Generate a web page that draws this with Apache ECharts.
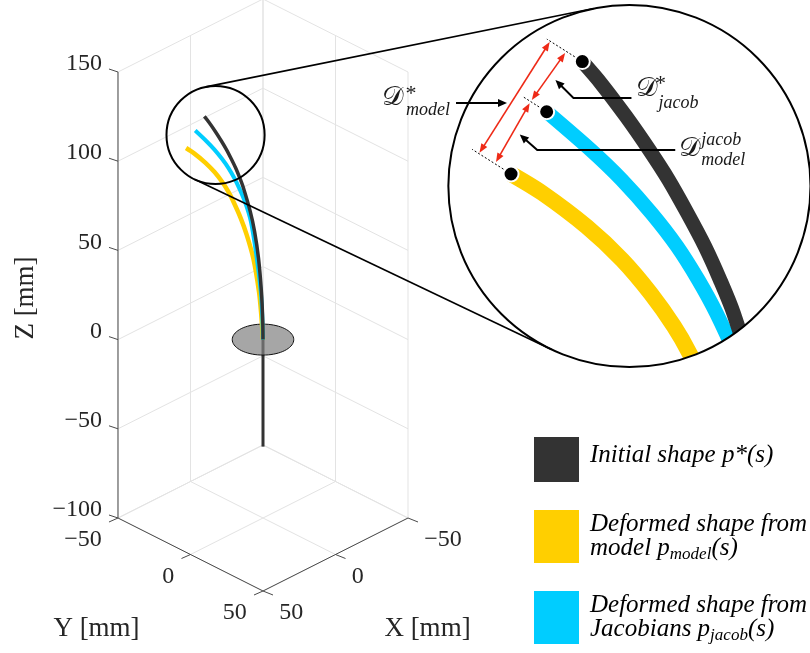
<!DOCTYPE html>
<html>
<head>
<meta charset="utf-8">
<script src="https://cdn.jsdelivr.net/npm/echarts@6/dist/echarts.min.js"></script>
<style>
html,body{margin:0;padding:0;background:#fff;}
#chart{width:810px;height:653px;}
</style>
</head>
<body>
<div id="chart"></div>
<script>
// ---------------- data ----------------
const xTicks = [-50, 0, 50];
const yTicks = [-50, 0, 50];
const zTicks = [-100, -50, 0, 50, 100, 150];
const axisTitles = { x: 'X [mm]', y: 'Y [mm]', z: 'Z [mm]' };
const seriesNames = [
  'Initial shape p*(s)',
  'Deformed shape from model p_model(s)',
  'Deformed shape from Jacobians p_jacob(s)'
];

// centre-line points of the three shapes [mm]
const initialX = [0, 0.10, 0.55, 1.55, 2.90, 4.38, 6.85, 8.03, 9.38, 10.92, 12.60, 14.30, 16.33, 18.58, 20.22];
const initialY = [0, -0.10, -0.55, -1.55, -2.90, -4.38, -6.85, -8.03, -9.38, -10.92, -12.60, -14.30, -16.33, -18.58, -20.22];
const initialZ = [0, 11.0, 26.9, 45.6, 60.5, 71.7, 85.5, 90.7, 96.0, 101.2, 106.5, 111.2, 116.4, 121.7, 125.1];

const modelX = [0, 0.59, 1.38, 3.34, 5.59, 7.66, 10.75, 12.11, 14.18, 16.71, 19.83, 23.76, 26.52];
const modelY = [0, -0.59, -1.38, -3.34, -5.59, -7.66, -10.75, -12.11, -14.18, -16.71, -19.83, -23.76, -26.52];
const modelZ = [0, 13.8, 26.9, 45.6, 58.6, 68.0, 79.2, 83.4, 88.6, 93.9, 99.1, 104.4, 107.4];

const jacobX = [0, 0.28, 0.76, 2.14, 4.17, 6.24, 8.37, 9.96, 11.84, 14.09, 16.74, 19.48, 23.37];
const jacobY = [0, -0.28, -0.76, -2.14, -4.17, -6.24, -8.37, -9.96, -11.84, -14.09, -16.74, -19.48, -23.37];
const jacobZ = [0, 13.8, 26.9, 45.6, 66.1, 77.3, 85.5, 90.7, 96.0, 101.2, 106.5, 111.2, 117.2];

const rodZ = [0, -60];      // fixed rod under the base
const diskRadius = 15;      // base plate radius
const diskZ = 0;

// ---------------- view / layout (style) ----------------
const W = 810, H = 653;
const PX = 1.784;                 // px per unit of projected space
const ORIGIN = [263, 339.6];      // pixel of (0,0,0)
const VA = 0.8128, VB = 0.4092;   // orthographic view
function proj(x, y, z) { return [VA * (y - x), z - VB * (x + y)]; }
const ZOOM = { mx: 3.9, my: 3.56, ax: -214.7, ay: -352.9 };   // magnified view
const lens = { u: -26.6, v: 114.7, r: 27.5 };     // small circle (projected units)
const loupe = { u: 205.4, v: 86.1, r: 101.5 };    // big circle
const SERIF = '"Liberation Serif", "Times New Roman", serif';
const SCRIPT = '"DejaVu Serif", "DejaVu Sans", serif';
const RED = '#ee2a17';
const COLORS = ['#333333', '#FFCF00', '#00CDFF'];

const xMin = Math.min(...xTicks), xMax = Math.max(...xTicks);
const yMin = Math.min(...yTicks), yMax = Math.max(...yTicks);
const zMin = Math.min(...zTicks), zMax = Math.max(...zTicks);

function mainPx(u, v) { return [ORIGIN[0] + PX * u, ORIGIN[1] - PX * v]; }
function insetPx(u, v) { const p = mainPx(u, v); return [ZOOM.ax + ZOOM.mx * p[0], ZOOM.ay + ZOOM.my * p[1]]; }

const mainRange = {
  x: [-ORIGIN[0] / PX, (W - ORIGIN[0]) / PX],
  y: [(ORIGIN[1] - H) / PX, ORIGIN[1] / PX]
};
const insetRange = {
  x: [((0 - ZOOM.ax) / ZOOM.mx - ORIGIN[0]) / PX, ((W - ZOOM.ax) / ZOOM.mx - ORIGIN[0]) / PX],
  y: [(ORIGIN[1] - (H - ZOOM.ay) / ZOOM.my) / PX, (ORIGIN[1] - (0 - ZOOM.ay) / ZOOM.my) / PX]
};

const curves = [
  { name: seriesNames[1], X: modelX, Y: modelY, Z: modelZ, color: COLORS[1], w: 4.5, wi: 16, z: 5 },
  { name: seriesNames[2], X: jacobX, Y: jacobY, Z: jacobZ, color: COLORS[2], w: 4, wi: 14.5, z: 6 },
  { name: seriesNames[0], X: initialX, Y: initialY, Z: initialZ, color: COLORS[0], w: 3.5, wi: 14.5, z: 7 }
];
curves.forEach(c => { c.pts = c.X.map((x, i) => proj(x, c.Y[i], c.Z[i])); });

// points of each curve that fall inside the loupe (plus one outside for continuity)
const loupePx = mainPx(loupe.u, loupe.v), loupeR = loupe.r * PX;
curves.forEach(c => {
  const first = c.pts.findIndex(p => {
    const q = insetPx(p[0], p[1]);
    return Math.hypot(q[0] - loupePx[0], q[1] - loupePx[1]) < loupeR;
  });
  c.insetPts = c.pts.slice(Math.max(0, first - 1));
});

// ---------------- box geometry from ticks ----------------
const gridSegs = [];
zTicks.forEach(z => {
  gridSegs.push([...proj(xMax, yMin, z), ...proj(xMin, yMin, z)]);
  gridSegs.push([...proj(xMin, yMin, z), ...proj(xMin, yMax, z)]);
});
xTicks.forEach(x => {
  gridSegs.push([...proj(x, yMin, zMin), ...proj(x, yMin, zMax)]);
  gridSegs.push([...proj(x, yMin, zMin), ...proj(x, yMax, zMin)]);
});
yTicks.forEach(y => {
  gridSegs.push([...proj(xMin, y, zMin), ...proj(xMin, y, zMax)]);
  gridSegs.push([...proj(xMin, y, zMin), ...proj(xMax, y, zMin)]);
});
const axisSegs = [
  [...proj(xMax, yMin, zMin), ...proj(xMax, yMin, zMax)],
  [...proj(xMax, yMin, zMin), ...proj(xMax, yMax, zMin)],
  [...proj(xMax, yMax, zMin), ...proj(xMin, yMax, zMin)]
];
const tickItems = [];
zTicks.forEach(z => tickItems.push([...proj(xMax, yMin, z), -9, -3]));
yTicks.forEach(y => tickItems.push([...proj(xMax, y, zMin), -9, 4]));
xTicks.forEach(x => tickItems.push([...proj(x, yMax, zMin), 10, 4]));

const fmt = t => (t < 0 ? '\u2212' + Math.abs(t) : String(t));
const textItems = [];
zTicks.forEach(z => textItems.push({ p: proj(xMax, yMin, z), text: fmt(z), align: 'right', dx: -16, dy: -8, size: 24 }));
yTicks.forEach(y => textItems.push({ p: proj(xMax, y, zMin), text: fmt(y), align: 'right', dx: -16.3, dy: 22, size: 24 }));
xTicks.forEach(x => textItems.push({ p: proj(x, yMax, zMin), text: fmt(x), align: 'left', dx: 16.3, dy: 22, size: 24 }));
textItems.push({ p: proj(xMax, yMin, (zMin + zMax) / 2), text: axisTitles.z, align: 'center', dx: -92, dy: 3, size: 27, rot: Math.PI / 2 });
textItems.push({ p: proj(xMax, (yMin + yMax) / 2, zMin), text: axisTitles.y, align: 'center', dx: -94, dy: 74.5, size: 27 });
textItems.push({ p: proj((xMin + xMax) / 2, yMax, zMin), text: axisTitles.x, align: 'center', dx: 92, dy: 74.5, size: 27 });

// ---------------- helpers ----------------
function segSeries(segs, style, z, axis) {
  return {
    type: 'custom', xAxisIndex: axis || 0, yAxisIndex: axis || 0, z, silent: true,
    data: segs,
    renderItem(params, api) {
      const p1 = api.coord([api.value(0), api.value(1)]);
      const p2 = api.coord([api.value(2), api.value(3)]);
      return { type: 'line', shape: { x1: p1[0], y1: p1[1], x2: p2[0], y2: p2[1] }, style: Object.assign({}, style) };
    }
  };
}
function txt(x, y, text, o) {
  o = o || {};
  return {
    type: 'text', x, y, rotation: o.rot || 0,
    style: {
      text, fill: o.fill || '#1a1a1a', fontSize: o.size || 18, fontFamily: o.family || SERIF,
      fontStyle: o.style || 'normal', align: o.align || 'left', verticalAlign: 'middle',
      textAlign: o.align || 'left', textVerticalAlign: 'middle'
    }
  };
}
function head(tip, ux, uy, len, half, color) {
  const bx = tip[0] - ux * len, by = tip[1] - uy * len;
  return { type: 'polygon', shape: { points: [[tip[0], tip[1]], [bx - uy * half, by + ux * half], [bx + uy * half, by - ux * half]] }, style: { fill: color } };
}
function dblArrow(P, Q, g, color) {
  const dx = Q[0] - P[0], dy = Q[1] - P[1], L = Math.hypot(dx, dy), ux = dx / L, uy = dy / L;
  const a = [P[0] + ux * g, P[1] + uy * g], b = [Q[0] - ux * g, Q[1] - uy * g];
  return [
    { type: 'line', shape: { x1: a[0] + ux * 5, y1: a[1] + uy * 5, x2: b[0] - ux * 5, y2: b[1] - uy * 5 }, style: { stroke: color, lineWidth: 1.6 } },
    head(a, -ux, -uy, 9, 3.5, color), head(b, ux, uy, 9, 3.5, color)
  ];
}
function pointer(pts, color) {
  const n = pts.length, t = pts[n - 1], p = pts[n - 2];
  const dx = t[0] - p[0], dy = t[1] - p[1], L = Math.hypot(dx, dy);
  const ux = dx / L, uy = dy / L;
  const line = pts.slice(0, n - 1).concat([[t[0] - ux * 6, t[1] - uy * 6]]);
  return [
    { type: 'polyline', shape: { points: line }, style: { stroke: color, lineWidth: 2, fill: null } },
    head(t, ux, uy, 9, 4, color)
  ];
}

// ---------------- series ----------------
const series = [];
series.push(segSeries(gridSegs, { stroke: '#e3e3e3', lineWidth: 1 }, 1));
series.push(segSeries(axisSegs, { stroke: '#4a4a4a', lineWidth: 1 }, 2));
series.push({
  type: 'custom', xAxisIndex: 0, yAxisIndex: 0, z: 2, silent: true, data: tickItems,
  renderItem(params, api) {
    const p = api.coord([api.value(0), api.value(1)]);
    return { type: 'line', shape: { x1: p[0], y1: p[1], x2: p[0] + api.value(2), y2: p[1] + api.value(3) }, style: { stroke: '#4a4a4a', lineWidth: 1 } };
  }
});
series.push({
  type: 'custom', xAxisIndex: 0, yAxisIndex: 0, z: 2, silent: true, data: textItems.map(t => t.p),
  renderItem(params, api) {
    const t = textItems[params.dataIndex];
    const p = api.coord([api.value(0), api.value(1)]);
    return txt(p[0] + t.dx, p[1] + t.dy, t.text, { size: t.size, align: t.align, rot: t.rot, fill: '#262626' });
  }
});
// rod
series.push({
  type: 'line', xAxisIndex: 0, yAxisIndex: 0, z: 3, silent: true, symbol: 'none',
  data: rodZ.map(z => proj(0, 0, z)), lineStyle: { color: '#333333', width: 3 }
});
// base plate
series.push({
  type: 'custom', xAxisIndex: 0, yAxisIndex: 0, z: 4, silent: true, data: [[0, 0]],
  renderItem(params, api) {
    const pts = [];
    for (let i = 0; i < 72; i++) {
      const a = 2 * Math.PI * i / 72;
      pts.push(api.coord(proj(diskRadius * Math.cos(a), diskRadius * Math.sin(a), diskZ)));
    }
    return { type: 'polygon', shape: { points: pts }, style: { fill: 'rgba(128,128,128,0.7)', stroke: '#111', lineWidth: 1 } };
  }
});
// main curves
curves.forEach(c => series.push({
  type: 'line', name: c.name, xAxisIndex: 0, yAxisIndex: 0, z: c.z, silent: true,
  data: c.pts, symbol: 'none', smooth: 0.3, color: c.color,
  lineStyle: { color: c.color, width: c.w, cap: 'butt' }, emphasis: { disabled: true }
}));
// magnified curves
curves.forEach(c => series.push({
  type: 'line', name: c.name, xAxisIndex: 1, yAxisIndex: 1, z: c.z + 5, silent: true,
  data: c.insetPts, symbol: 'none', smooth: 0.3, color: c.color,
  lineStyle: { color: c.color, width: c.wi, cap: 'butt' }, emphasis: { disabled: true }
}));
// mask outside the loupe
series.push({
  type: 'custom', xAxisIndex: 0, yAxisIndex: 0, z: 13, silent: true, data: [[loupe.u, loupe.v]],
  renderItem(params, api) {
    const c = api.coord([api.value(0), api.value(1)]);
    const r = api.size([loupe.r, 0])[0];
    const xa = c[0] - r - 3, xb = Math.min(W + 2, c[0] + r + 3), ya = c[1] - r - 3, yb = c[1] + r + 70;
    const d = `M${xa} ${ya} L${xb} ${ya} L${xb} ${yb} L${xa} ${yb} Z ` +
      `M${c[0] + r} ${c[1]} A${r} ${r} 0 1 0 ${c[0] - r} ${c[1]} A${r} ${r} 0 1 0 ${c[0] + r} ${c[1]} Z`;
    return { type: 'path', shape: { pathData: d }, style: { fill: '#ffffff' } };
  }
});
// tip markers in the magnified view
const tips = curves.map(c => c.pts[c.pts.length - 1]);
series.push({
  type: 'scatter', xAxisIndex: 1, yAxisIndex: 1, z: 14, silent: true, data: tips,
  symbolSize: 15, itemStyle: { color: '#000', borderColor: '#fff', borderWidth: 2, opacity: 1 }
});
// distance annotations (computed from the tips)
const tipB = curves[2].pts[curves[2].pts.length - 1];
const tipM = curves[0].pts[curves[0].pts.length - 1];
const tipJ = curves[1].pts[curves[1].pts.length - 1];
series.push({
  type: 'custom', xAxisIndex: 1, yAxisIndex: 1, z: 15, silent: true,
  data: [[...tipB, ...tipM, ...tipJ]],
  renderItem(params, api) {
    const B = api.coord([api.value(0), api.value(1)]);
    const M = api.coord([api.value(2), api.value(3)]);
    const J = api.coord([api.value(4), api.value(5)]);
    let nx = M[0] - B[0], ny = M[1] - B[1]; const nl = Math.hypot(nx, ny); nx /= nl; ny /= nl;
    const ex = ny, ey = -nx;
    const off = (P, s) => [P[0] - ex * s, P[1] - ey * s];
    const lerp = (P, Q, f) => [P[0] + (Q[0] - P[0]) * f, P[1] + (Q[1] - P[1]) * f];
    const ch = [];
    const dash = (P, s0, s1) => {
      const a = off(P, s0), b = off(P, s1);
      ch.push({ type: 'line', shape: { x1: a[0], y1: a[1], x2: b[0], y2: b[1] }, style: { stroke: '#000', lineWidth: 1, lineDash: [2, 2] } });
    };
    dash(B, 9, 42); dash(J, 9, 29); dash(M, 9, 46);
    ch.push(...dblArrow(off(B, 38), off(M, 38), 1, RED));
    ch.push(...dblArrow(off(B, 19), off(J, 19), 2, RED));
    ch.push(...dblArrow(off(J, 19), off(M, 19), 2, RED));
    // pointers
    const T1 = lerp(off(B, 38), off(M, 38), 0.55);
    const tip1 = [T1[0] - 4, T1[1]], tail1 = [tip1[0] - 51, tip1[1]];
    ch.push(...pointer([tail1, tip1], '#000'));
    const T2 = lerp(off(B, 19), off(J, 19), 0.57);
    const tip2 = [T2[0] + 9.5, T2[1]], elb2 = [tip2[0] + 18, tip2[1] + 18], tail2 = [elb2[0] + 58, elb2[1]];
    ch.push(...pointer([tail2, elb2, tip2], '#000'));
    const T3 = lerp(off(J, 19), off(M, 19), 0.53);
    const tip3 = [T3[0] + 8, T3[1]], elb3 = [tip3[0] + 17.5, tip3[1] + 15.5], tail3 = [elb3[0] + 138, elb3[1]];
    ch.push(...pointer([tail3, elb3, tip3], '#000'));
    // labels
    const it = { style: 'italic', size: 18, fill: '#1a1a1a' };
    const sc = { family: SCRIPT, size: 27, align: 'center', fill: '#1a1a1a' };
    ch.push(txt(tail1[0] - 63, tail1[1] - 5, '\u{1D49F}', sc));
    ch.push(txt(tail1[0] - 45, tail1[1] - 9, '*', { size: 22, align: 'center' }));
    ch.push(txt(tail1[0] - 50, tail1[1] + 7, 'model', Object.assign({}, it)));
    ch.push(txt(tail2[0] + 16, tail2[1] - 9, '\u{1D49F}', sc));
    ch.push(txt(tail2[0] + 29, tail2[1] - 13.5, '*', { size: 22, align: 'center' }));
    ch.push(txt(tail2[0] + 27, tail2[1] + 5, 'jacob', Object.assign({}, it)));
    ch.push(txt(tail3[0] + 15, tail3[1] - 1.5, '\u{1D49F}', sc));
    ch.push(txt(tail3[0] + 26, tail3[1] - 10, 'jacob', Object.assign({}, it)));
    ch.push(txt(tail3[0] + 26, tail3[1] + 10, 'model', Object.assign({}, it)));
    return { type: 'group', children: ch };
  }
});
// lens, loupe and connecting tangents
series.push({
  type: 'custom', xAxisIndex: 0, yAxisIndex: 0, z: 16, silent: true, data: [[lens.u, lens.v, loupe.u, loupe.v]],
  renderItem(params, api) {
    const c1 = api.coord([api.value(0), api.value(1)]), r1 = api.size([lens.r, 0])[0];
    const c2 = api.coord([api.value(2), api.value(3)]), r2 = api.size([loupe.r, 0])[0];
    const dx = c2[0] - c1[0], dy = c2[1] - c1[1], D = Math.hypot(dx, dy);
    const th = Math.atan2(dy, dx), al = Math.acos((r1 - r2) / D);
    const ch = [
      { type: 'circle', shape: { cx: c1[0], cy: c1[1], r: r1 }, style: { fill: null, stroke: '#000', lineWidth: 2 } },
      { type: 'circle', shape: { cx: c2[0], cy: c2[1], r: r2 }, style: { fill: null, stroke: '#000', lineWidth: 2 } }
    ];
    [th + al, th - al].forEach(a => {
      ch.push({ type: 'line', shape: {
        x1: c1[0] + r1 * Math.cos(a), y1: c1[1] + r1 * Math.sin(a),
        x2: c2[0] + r2 * Math.cos(a), y2: c2[1] + r2 * Math.sin(a) }, style: { stroke: '#000', lineWidth: 1.6 } });
    });
    return { type: 'group', children: ch };
  }
});

const legendText = {};
legendText[seriesNames[0]] = '{a|Initial shape p*(s)}';
legendText[seriesNames[1]] = '{a|Deformed shape from}\n{a|model p}{s|model}{t|(s)}';
legendText[seriesNames[2]] = '{a|Deformed shape from}\n{a|Jacobians p}{s|jacob}{t|(s)}';
const lt = { fontFamily: SERIF, fontStyle: 'italic', fontSize: 25, lineHeight: 24, color: '#000' };

const chart = echarts.init(document.getElementById('chart'), null, { renderer: 'canvas' });
chart.setOption({
  animation: false,
  backgroundColor: '#ffffff',
  grid: [
    { left: 0, top: 0, width: W, height: H },
    { left: 0, top: 0, width: W, height: H }
  ],
  xAxis: [
    { gridIndex: 0, type: 'value', min: mainRange.x[0], max: mainRange.x[1], show: false },
    { gridIndex: 1, type: 'value', min: insetRange.x[0], max: insetRange.x[1], show: false }
  ],
  yAxis: [
    { gridIndex: 0, type: 'value', min: mainRange.y[0], max: mainRange.y[1], show: false },
    { gridIndex: 1, type: 'value', min: insetRange.y[0], max: insetRange.y[1], show: false }
  ],
  legend: {
    orient: 'vertical', left: 534, top: 429, padding: 0,
    itemWidth: 45, itemHeight: 53, itemGap: 28, icon: 'rect', selectedMode: false,
    data: seriesNames,
    itemStyle: { borderWidth: 0 },
    formatter: n => legendText[n],
    textStyle: {
      fontFamily: SERIF, fontStyle: 'italic', fontSize: 25, color: '#000',
      rich: {
        a: Object.assign({}, lt, { padding: [0, 0, 0, 6] }),
        t: Object.assign({}, lt),
        s: { fontFamily: SERIF, fontStyle: 'italic', fontSize: 17, lineHeight: 24, color: '#000', padding: [12, 0, 0, 0] }
      }
    }
  },
  series
});
</script>
</body>
</html>
